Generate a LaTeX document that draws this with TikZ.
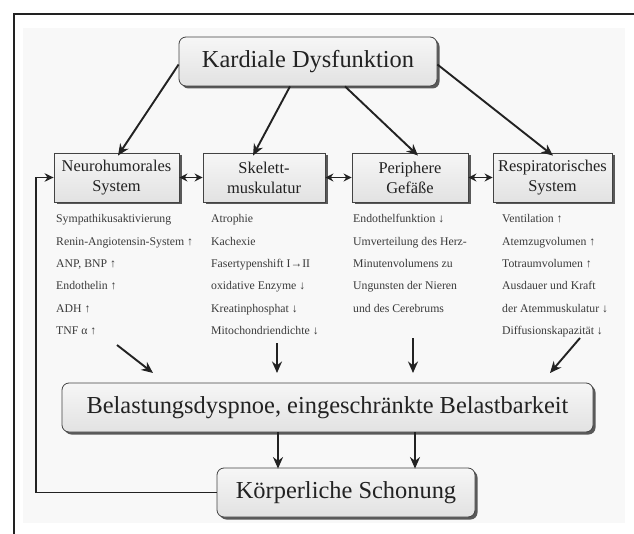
\documentclass[tikz,border=0pt]{standalone}
\usepackage{fontspec}
\setmainfont{Liberation Serif}
\usetikzlibrary{arrows.meta,shadows}
\definecolor{ink}{HTML}{222222}
\definecolor{txt}{HTML}{3A3A3A}
\definecolor{boxtop}{HTML}{F6F6F6}
\definecolor{boxbot}{HTML}{E2E2E2}
\definecolor{panel}{HTML}{F8F8F8}
\newcommand{\bigf}{\fontsize{24.5}{28}\selectfont}
\newcommand{\midf}{\fontsize{16.5}{20}\selectfont}
\newcommand{\lstf}{\fontsize{11.8}{14}\selectfont}
\begin{document}
\begin{tikzpicture}[x=1bp,y=-1bp,
  shad/.style={drop shadow={shadow xshift=2.5bp,shadow yshift=-2.5bp,fill=black!65,opacity=1}},
  sbox/.style={draw=ink!85,line width=0.8bp,top color=boxtop,bottom color=boxbot,
    inner sep=0pt,minimum height=49bp,align=center,text=ink,shad},
  rbox/.style={sbox,rounded corners=7bp,font=\bigf},
  qbox/.style={sbox,font=\midf},
  lst/.style={anchor=base west,inner sep=0pt,font=\lstf,text=txt},
  arr/.style={draw=ink,line width=1.9bp,-{Stealth[length=11.5bp,width=10bp]}},
  dbl/.style={draw=ink,line width=1.8bp,{Stealth[length=8bp,width=8bp]}-{Stealth[length=8bp,width=8bp]}},
  fb/.style={draw=ink,line width=1.6bp,-{Stealth[length=9bp,width=8.5bp]}}]
\useasboundingbox (0,0) rectangle (634,534);
\fill[white] (0,0) rectangle (634,534);
\fill[panel] (23,28) rectangle (625,523);
\draw[ink,line width=1.2bp] (14,534) -- (14,14) -- (634,14);

% top box
\node[rbox,minimum width=258bp] (kd) at (308,61.5) {Kardiale Dysfunktion};

% four boxes
\node[qbox,minimum width=125bp] (nh) at (116.5,177.5) {Neurohumorales\\System};
\node[qbox,minimum width=122bp] (sk) at (264,177.5) {Skelett-\\muskulatur};
\node[qbox,minimum width=116bp] (pg) at (410,177.5) {Periphere\\Gefäße};
\node[qbox,minimum width=119bp] (rs) at (552.5,177.5) {Respiratorisches\\System};

% bottom boxes
\node[rbox,minimum width=531bp] (bd) at (327.5,407.5) {Belastungsdyspnoe, eingeschränkte Belastbarkeit};
\node[rbox,minimum width=258bp] (ks) at (346,492.5) {Körperliche Schonung};

% arrows from top
\draw[arr] ([yshift=-3bp]kd.west) -- ([xshift=1.5bp,yshift=-3bp]nh.north);
\draw[arr] ([xshift=-18bp]kd.south) -- ([xshift=-11bp,yshift=-3bp]sk.north);
\draw[arr] ([xshift=37bp]kd.south) -- ([xshift=8bp,yshift=-3bp]pg.north);
\draw[arr] ([yshift=-3bp]kd.east) -- ([xshift=0.5bp,yshift=-3bp]rs.north);

% double arrows
\draw[dbl] (nh.east) -- (sk.west);
\draw[dbl] (sk.east) -- (pg.west);
\draw[dbl] (pg.east) -- (rs.west);

% lists
\foreach \t [count=\i] in {Sympathikusaktivierung,Renin-Angiotensin-System ↑,{ANP, BNP ↑},Endothelin ↑,ADH ↑,TNF α ↑}
  \node[lst] (nhl\i) at (56,223+22.3*\i-22.3) {\t};
\foreach \t [count=\i] in {Atrophie,Kachexie,Fasertypenshift I→II,oxidative Enzyme ↓,Kreatinphosphat ↓,Mitochondriendichte ↓}
  \node[lst] (skl\i) at (211,223+22.3*\i-22.3) {\t};
\foreach \t [count=\i] in {Endothelfunktion ↓,Umverteilung des Herz-,Minutenvolumens zu,Ungunsten der Nieren,und des Cerebrums}
  \node[lst] (pgl\i) at (353,223+22.3*\i-22.3) {\t};
\foreach \t [count=\i] in {Ventilation ↑,Atemzugvolumen ↑,Totraumvolumen ↑,Ausdauer und Kraft,der Atemmuskulatur ↓,Diffusionskapazität ↓}
  \node[lst] (rsl\i) at (502,223+22.3*\i-22.3) {\t};

% arrows into Belastungsdyspnoe
\coordinate (a1s) at (117,345); \coordinate (a1e) at (153,373);
\coordinate (a2s) at (277,343); \coordinate (a2e) at (277,373);
\coordinate (a3s) at (413,338); \coordinate (a3e) at (413,373);
\coordinate (a4s) at (580,338); \coordinate (a4e) at (550,373);
\draw[arr] (a1s) -- (a1e);
\draw[arr] (a2s) -- (a2e);
\draw[arr] (a3s) -- (a3e);
\draw[arr] (a4s) -- (a4e);

% arrows to Schonung
\coordinate (c1) at (278,0);
\coordinate (c2) at (415,0);
\draw[arr] (bd.south -| c1) -- ([yshift=-1bp]ks.north -| c1);
\draw[arr] (bd.south -| c2) -- ([yshift=-1bp]ks.north -| c2);

% feedback
\coordinate (fbc) at (36,492.5);
\draw[fb] (ks.west) -- (fbc) |- (nh.west);
\end{tikzpicture}
\end{document}
